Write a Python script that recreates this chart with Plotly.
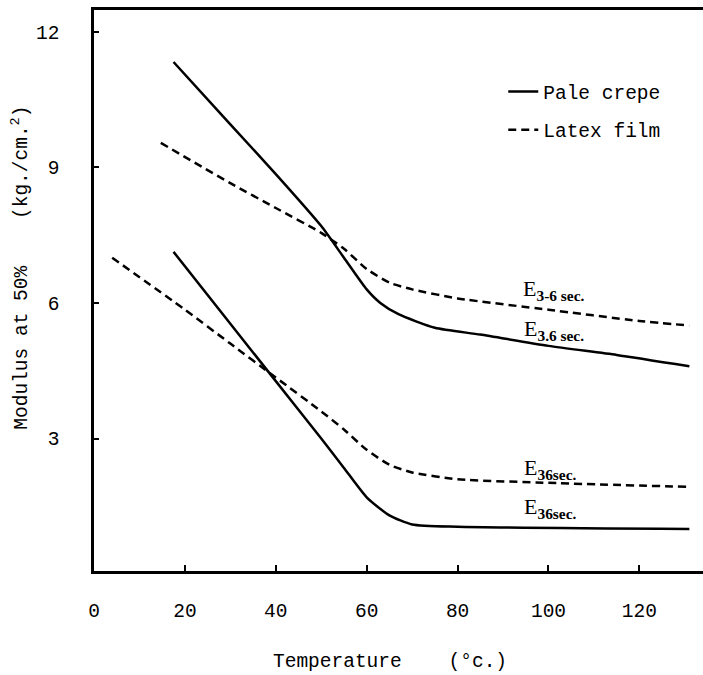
import plotly.graph_objects as go

# Pale crepe, E 3.6 sec
crepe_36_x = [17.5, 30, 40, 50, 55, 60, 63, 67, 75, 85, 100, 115, 131]
crepe_36_y = [11.33, 9.95, 8.85, 7.7, 7.0, 6.3, 6.0, 5.75, 5.45, 5.3, 5.05, 4.85, 4.6]
# Latex film, E 3.6 sec
latex_36_x = [14.7, 30, 40, 50, 55, 60, 65, 70, 80, 100, 120, 131]
latex_36_y = [9.54, 8.65, 8.1, 7.55, 7.2, 6.75, 6.45, 6.3, 6.1, 5.85, 5.6, 5.5]
# Pale crepe, E 36 sec
crepe_360_x = [17.5, 30, 40, 50, 55, 60, 65, 70, 80, 131]
crepe_360_y = [7.13, 5.54, 4.27, 3.0, 2.35, 1.7, 1.3, 1.1, 1.05, 1.0]
# Latex film, E 36 sec
latex_360_x = [4, 20, 30, 40, 50, 55, 60, 65, 70, 80, 100, 131]
latex_360_y = [7.0, 5.85, 5.1, 4.35, 3.6, 3.2, 2.75, 2.42, 2.25, 2.1, 2.02, 1.93]

x_ticks = [0, 20, 40, 60, 80, 100, 120]
y_ticks = [3, 6, 9, 12]

MONO = "Liberation Mono"
SERIF = "Liberation Serif"
FS = 19.5

fig = go.Figure()
line_solid = dict(color="black", width=2.5, shape="spline", smoothing=0.6)
line_dash = dict(color="black", width=2.5, dash="8px,5px", shape="spline", smoothing=0.6)

fig.add_trace(go.Scatter(x=crepe_36_x, y=crepe_36_y, mode="lines", line=line_solid,
                         name="Pale crepe", legendgroup="a"))
fig.add_trace(go.Scatter(x=latex_36_x, y=latex_36_y, mode="lines", line=line_dash,
                         name="Latex film", legendgroup="b"))
fig.add_trace(go.Scatter(x=crepe_360_x, y=crepe_360_y, mode="lines", line=line_solid,
                         name="Pale crepe", legendgroup="a", showlegend=False))
fig.add_trace(go.Scatter(x=latex_360_x, y=latex_360_y, mode="lines", line=line_dash,
                         name="Latex film", legendgroup="b", showlegend=False))

labels = [
    (101.2, 6.29, "E<sub><b>3-6 sec.</b></sub>"),
    (101.2, 5.40, "E<sub><b>3.6 sec.</b></sub>"),
    (100.3, 2.32, "E<sub><b>36sec.</b></sub>"),
    (100.3, 1.46, "E<sub><b>36sec.</b></sub>"),
]
for lx, ly, lt in labels:
    fig.add_annotation(x=lx, y=ly, text=lt, showarrow=False,
                       font=dict(family=SERIF, size=22, color="black"))

fig.add_annotation(xref="paper", yref="paper", x=0.486, y=-0.185,
                   text="Temperature    (°c.)", showarrow=False,
                   font=dict(family=MONO, size=FS, color="black"))
fig.add_annotation(xref="paper", yref="paper", x=-0.146, y=0.54,
                   text="Modulus at 50%    (kg./cm.<sup>2</sup>)", showarrow=False,
                   textangle=-90, font=dict(family=MONO, size=FS, color="black"))

fig.update_layout(
    width=703, height=675,
    margin=dict(l=94, r=0, t=10, b=104),
    paper_bgcolor="white", plot_bgcolor="white",
    showlegend=True,
    legend=dict(x=0.672, y=0.889, xanchor="left", yanchor="top",
                bgcolor="rgba(0,0,0,0)", tracegroupgap=10,
                font=dict(family=MONO, size=FS, color="black")),
    xaxis=dict(range=[0, 134], tickvals=x_ticks, ticks="inside", ticklen=6,
               tickwidth=2, tickcolor="black", showline=True, linecolor="black",
               linewidth=2.5, mirror=True, showgrid=False, zeroline=False,
               ticklabelstandoff=20,
               tickfont=dict(family=MONO, size=FS, color="black")),
    yaxis=dict(range=[0.07, 12.48], tickvals=y_ticks, ticks="inside", ticklen=5,
               tickwidth=2, tickcolor="black", showline=True, linecolor="black",
               linewidth=2.5, mirror=False, showgrid=False, zeroline=False,
               ticklabelstandoff=28,
               tickfont=dict(family=MONO, size=FS, color="black")),
)

fig.write_html("out.html")
